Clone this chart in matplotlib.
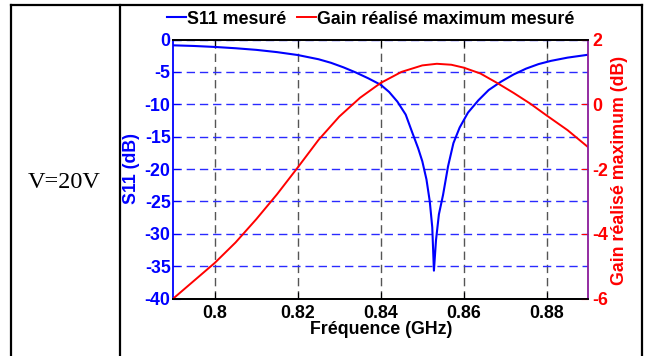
import matplotlib
matplotlib.use("Agg")
import matplotlib.pyplot as plt
from matplotlib.lines import Line2D

plt.rcParams['font.family'] = ['Liberation Sans', 'DejaVu Sans']
plt.rcParams['font.weight'] = 'bold'
plt.rcParams['axes.unicode_minus'] = False

# Measured S11 (dB) versus frequency (GHz)
freq_s11 = [0.790, 0.795, 0.800, 0.805, 0.810, 0.815, 0.820, 0.825, 0.828,
            0.831, 0.834, 0.837, 0.840, 0.842, 0.844, 0.846, 0.8476, 0.849,
            0.850, 0.851, 0.8518, 0.8524, 0.8528, 0.8533, 0.8540, 0.8550,
            0.8562, 0.8575, 0.8590, 0.8610, 0.8635, 0.8660, 0.8690, 0.8720,
            0.8750, 0.8780, 0.8810, 0.8850, 0.8900]
s11_db = [-0.9, -1.0, -1.15, -1.35, -1.6, -1.95, -2.4, -3.05, -3.6,
          -4.3, -5.1, -6.0, -7.0, -8.1, -9.6, -11.6, -14.4, -16.8,
          -18.8, -21.6, -25.0, -29.0, -35.7, -31.0, -27.0, -24.0,
          -19.6, -16.0, -13.6, -11.3, -9.4, -7.8, -6.5, -5.4,
          -4.5, -3.8, -3.3, -2.8, -2.35]

# Measured maximum realized gain (dB) versus frequency (GHz)
freq_gain = [0.790, 0.795, 0.800, 0.805, 0.810, 0.815, 0.820, 0.825, 0.830,
             0.835, 0.840, 0.845, 0.850, 0.8535, 0.857, 0.860, 0.864, 0.868,
             0.872, 0.876, 0.880, 0.885, 0.890]
gain_db = [-6.0, -5.45, -4.9, -4.27, -3.55, -2.78, -1.95, -1.1, -0.38,
           0.2, 0.66, 1.0, 1.2, 1.25, 1.22, 1.13, 0.95, 0.66,
           0.35, 0.02, -0.35, -0.8, -1.33]

x_ticks = [0.80, 0.82, 0.84, 0.86, 0.88]
x_tick_labels = ['0.8', '0.82', '0.84', '0.86', '0.88']
s11_ticks = list(range(-40, 1, 5))
gain_ticks = list(range(-6, 3, 2))

W, H = 652, 356
fig = plt.figure(figsize=(W / 100, H / 100), dpi=100)

# table frame around the panel
frame_kw = dict(color='black', lw=1.6, transform=fig.transFigure, clip_on=False)
fig.add_artist(Line2D([11 / W, 642 / W], [1 - 5 / H, 1 - 5 / H], **frame_kw))
for xp in (11, 120, 642):
    fig.add_artist(Line2D([xp / W, xp / W], [1 - 5 / H, 0], **frame_kw))
fig.text(64 / W, 1 - 183 / H, 'V=20V', family='Liberation Serif',
         weight='normal', fontsize=17.5, ha='center', va='center')

left, right, top, bottom = 173.3, 588.3, 39.5, 298.5
ax = fig.add_axes([left / W, 1 - bottom / H, (right - left) / W, (bottom - top) / H])
ax2 = ax.twinx()

dash = (0, (6, 3.5))
ax.grid(axis='x', color='#555555', lw=1.0, ls=dash)
ax.grid(axis='y', color='#2a2aff', lw=1.0, ls=dash)
ax.set_axisbelow(True)

l1, = ax.plot(freq_s11, s11_db, color='#0000ff', lw=1.5, label='S11 mesuré')
l2, = ax2.plot(freq_gain, gain_db, color='#ff0000', lw=1.4,
               label='Gain réalisé maximum mesuré')

ax.set_xlim(0.79, 0.89)
ax.set_ylim(-40, 0)
ax2.set_ylim(-6, 2)
ax.set_xticks(x_ticks)
ax.set_xticklabels(x_tick_labels)
ax.set_yticks(s11_ticks)
ax2.set_yticks(gain_ticks)

fs = 12.8
ax.tick_params(axis='x', direction='in', top=True, length=5, labelsize=fs,
               pad=5, colors='black')
ax.tick_params(axis='y', direction='in', length=5, labelsize=fs, pad=2,
               colors='#0000ff')
ax2.tick_params(axis='y', direction='in', length=5, labelsize=fs, pad=3,
                colors='#ff0000')

for a in (ax, ax2):
    for s in a.spines.values():
        s.set_linewidth(1.3)
ax.spines['left'].set_color('#0000ff')
ax.spines['right'].set_visible(False)
ax2.spines['left'].set_visible(False)
ax2.spines['right'].set_color('#8a1a9a')
for a in (ax, ax2):
    a.spines['top'].set_color('black')
    a.spines['bottom'].set_color('black')

fig.text(131 / W, 1 - 169 / H, 'S11 (dB)', rotation=90, color='#0000ff',
         fontsize=fs, ha='center', va='center')
fig.text(620 / W, 1 - 170 / H, 'Gain réalisé maximum (dB)', rotation=90,
         color='#ff0000', fontsize=fs, ha='center', va='center')
fig.text((left + right) / 2 / W, 1 - 330 / H, 'Fréquence (GHz)',
         fontsize=fs, ha='center', va='center')

fig.legend([l1, l2], [l1.get_label(), l2.get_label()], loc='center left',
           bbox_to_anchor=(167 / W, 1 - 19 / H), ncol=2, frameon=False,
           borderpad=0, borderaxespad=0, handlelength=1.05,
           handletextpad=0.08, columnspacing=0.6, fontsize=fs)

fig.savefig('out.png', dpi=100)
